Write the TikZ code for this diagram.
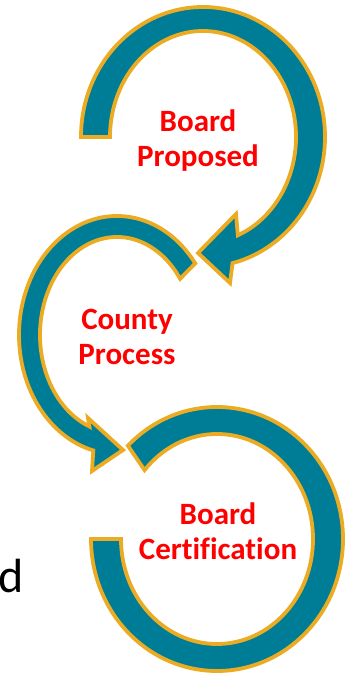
\documentclass[tikz,border=0pt]{standalone}
\usepackage{fontspec}
\setmainfont{Carlito}[Ligatures=NoCommon]
\definecolor{bandteal}{RGB}{0,125,150}
\definecolor{bandgold}{RGB}{235,172,35}
\definecolor{labelred}{RGB}{255,0,0}
\tikzset{
  band/.style={fill=bandteal, draw=bandgold, line width=3.8pt, line join=miter},
  steplabel/.style={text=labelred, font=\bfseries\fontsize{31}{35}\selectfont, align=center, inner sep=0pt, anchor=base},
}
\begin{document}
\begin{tikzpicture}[x=1pt,y=1pt]
\useasboundingbox (0,0) rectangle (347,676);

% centres of the three rings
\coordinate (c1) at (203,539);
\coordinate (c2) at (117,341);
\coordinate (c3) at (217,137);

% board proposed
\begin{scope}[shift={(c1)}]
\draw[band] (180:93 and 106) -- (180:122 and 130)
  arc[start angle=180, end angle=-76, x radius=122, y radius=130]
  -- (27,-146) -- (-5,-116) -- (33,-77) -- (-68:93 and 106)
  arc[start angle=-68, end angle=180, x radius=93, y radius=106] -- cycle;
\end{scope}

% county process
\begin{scope}[shift={(c2)}]
\draw[band] (35:77 and 98) -- (37:98 and 119)
  arc[start angle=37, end angle=256, x radius=98, y radius=119]
  -- (-25,-136) -- (6,-115) -- (-29,-83) -- (249:77 and 98)
  arc[start angle=249, end angle=35, x radius=77, y radius=98] -- cycle;
\end{scope}

% board certification
\begin{scope}[shift={(c3)}]
\draw[band] (139:96 and 105) -- (135:126 and 132)
  arc[start angle=135, end angle=-180, x radius=126, y radius=132]
  -- (180:96 and 105)
  arc[start angle=-180, end angle=139, x radius=96, y radius=105] -- cycle;
\end{scope}

% labels (base = last line)
\node[steplabel] (proposed) at (198,509) {Board\\Proposed};
\node[steplabel] (county) at (127,311) {County\\Process};
\node[steplabel] (certify) at (218,116) {Board\\Certification};

\node[anchor=base east, inner sep=0pt, font=\fontsize{48}{48}\selectfont] (cutword) at (24,83) {rd};
\end{tikzpicture}
\end{document}
